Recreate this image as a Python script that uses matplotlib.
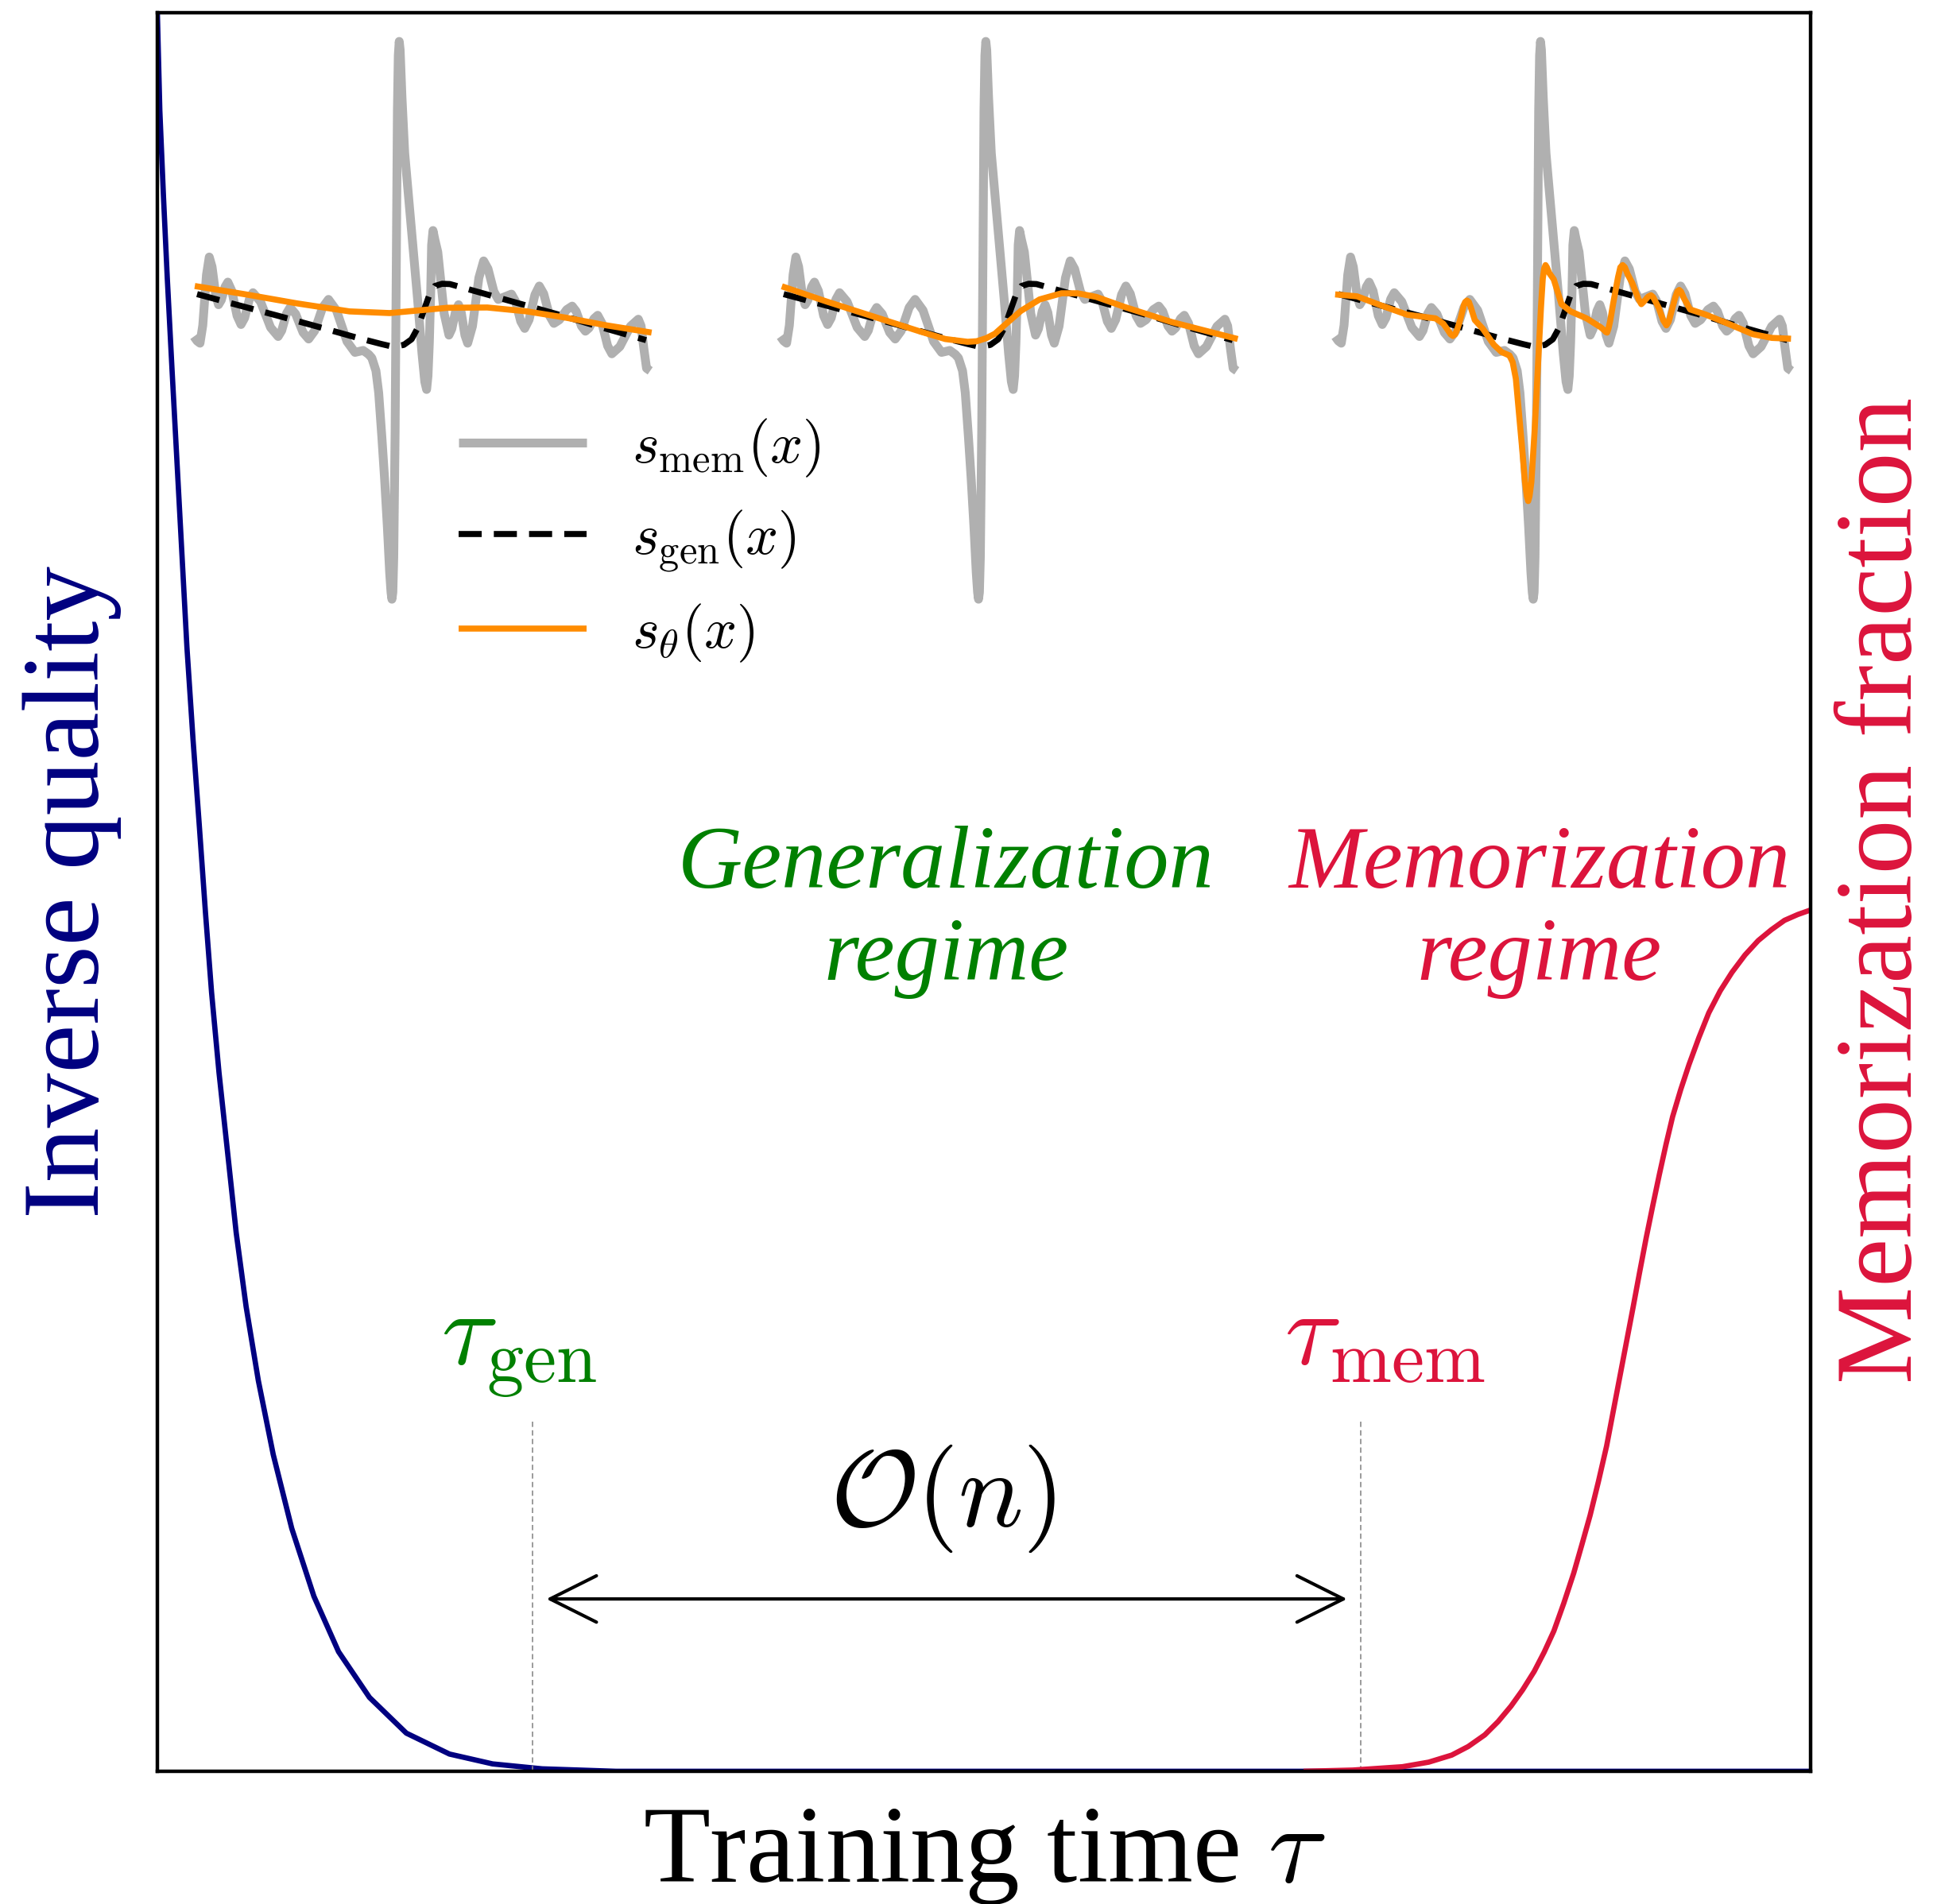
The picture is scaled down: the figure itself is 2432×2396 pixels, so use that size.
import matplotlib
matplotlib.use("Agg")
import matplotlib.pyplot as plt

plt.rcParams['font.family'] = ['Liberation Serif', 'DejaVu Serif']
plt.rcParams['mathtext.fontset'] = 'cm'

NAVY = '#000080'
CRIMSON = '#dc143c'
GREEN = '#008000'
ORANGE = '#ff8c00'
GREY = '#b0b0b0'

# ---- main curves (training time on [0, 1]) ----
tau_q = [0.0, 0.0015, 0.0037, 0.0060, 0.0089, 0.0119, 0.0149, 0.0179, 0.0216,
         0.0254, 0.0291, 0.0328, 0.0373, 0.0425, 0.0477, 0.0537, 0.0611, 0.0701,
         0.0813, 0.0947, 0.1096, 0.1283, 0.1506, 0.1767, 0.2028, 0.2327, 0.2774, 1.0]
inv_quality = [1.0, 0.9443, 0.8956, 0.8493, 0.7968, 0.7442, 0.6917, 0.6391, 0.5865,
               0.5375, 0.4884, 0.4429, 0.3973, 0.3518, 0.3062, 0.2642, 0.2221, 0.1801,
               0.1381, 0.0995, 0.0680, 0.0420, 0.0217, 0.0098, 0.0042, 0.0014, 0.0, 0.0]

tau_m = [0.6933, 0.7232, 0.7531, 0.7690, 0.7829, 0.7929, 0.8029, 0.8109, 0.8188,
         0.8258, 0.8328, 0.8388, 0.8447, 0.8507, 0.8567, 0.8617, 0.8666, 0.8716,
         0.8766, 0.8806, 0.8846, 0.8886, 0.8926, 0.8965, 0.9005, 0.9045, 0.9085,
         0.9125, 0.9165, 0.9214, 0.9264, 0.9324, 0.9384, 0.9453, 0.9524, 0.9603,
         0.9683, 0.9763, 0.9842, 0.9922, 1.0]
mem_frac = [0.0, 0.0007, 0.0026, 0.0052, 0.0092, 0.0141, 0.0207, 0.0282, 0.0371,
            0.0463, 0.0568, 0.0677, 0.0798, 0.0956, 0.1127, 0.1291, 0.1455, 0.1646,
            0.1850, 0.2047, 0.2244, 0.2441, 0.2638, 0.2835, 0.3032, 0.3216, 0.3394,
            0.3564, 0.3722, 0.3876, 0.4018, 0.4172, 0.4313, 0.4438, 0.4543, 0.4642,
            0.4724, 0.4786, 0.4839, 0.4872, 0.4898]

tau_gen = 0.2268
tau_mem = 0.7278
marker_top = 0.20
arrow_y = 0.098

# ---- score functions on x in [0, 1] ----
x_mem = [0.000, 0.007, 0.0134, 0.0195, 0.0236, 0.0276, 0.0337, 0.0398, 0.0439, 0.0479,
         0.054, 0.0601, 0.0642, 0.0683, 0.0744, 0.0831, 0.0889, 0.0946, 0.1033, 0.1112,
         0.1164, 0.1216, 0.1295, 0.1461, 0.1571, 0.1681, 0.1847, 0.1925, 0.1978, 0.203,
         0.2108, 0.223, 0.2312, 0.2393, 0.2515, 0.2646, 0.2733, 0.282, 0.295, 0.3124,
         0.324, 0.3356, 0.353, 0.371, 0.383, 0.390, 0.399, 0.405, 0.412, 0.418,
         0.424, 0.429, 0.432, 0.434, 0.436, 0.438, 0.441, 0.444, 0.446, 0.448,
         0.450, 0.452, 0.456, 0.462, 0.475, 0.490, 0.500, 0.506, 0.510, 0.513,
         0.516, 0.519, 0.521, 0.524, 0.528, 0.5345, 0.5415, 0.5485, 0.559, 0.5653,
         0.5695, 0.5737, 0.580, 0.586, 0.590, 0.594, 0.600, 0.6105, 0.6175, 0.6245,
         0.635, 0.6446, 0.651, 0.6574, 0.667, 0.6815, 0.696, 0.7047, 0.7105, 0.7163,
         0.725, 0.7346, 0.741, 0.7474, 0.757, 0.7666, 0.773, 0.7794, 0.789, 0.801,
         0.809, 0.817, 0.829, 0.8377, 0.8435, 0.8493, 0.858, 0.8661, 0.8715, 0.8769,
         0.885, 0.8943, 0.9005, 0.9067, 0.916, 0.9334, 0.945, 0.9566, 0.974, 0.980,
         0.986, 0.992, 1.000]
s_mem = [-0.058, -0.074, -0.082, -0.018, 0.0725, 0.163, 0.227, 0.192, 0.1415, 0.091,
         0.056, 0.0727, 0.0965, 0.120, 0.137, 0.1057, 0.061, 0.0163, -0.015, 0.0085,
         0.042, 0.0755, 0.099, 0.0667, 0.0205, -0.0257, -0.058, -0.0366, -0.006, 0.0246,
         0.046, 0.0227, -0.0105, -0.0437, -0.067, -0.0377, 0.004, 0.0458, 0.075, 0.0359,
         -0.020, -0.0759, -0.115, -0.108, -0.122, -0.135, -0.181, -0.26, -0.42, -0.57,
         -0.74, -0.903, -0.975, -1.000, -0.975, -0.85, -0.40, 0.30, 0.75, 0.95,
         1.000, 0.97, 0.80, 0.60, 0.36, 0.08, -0.12, -0.22, -0.248, -0.20,
         -0.08, 0.10, 0.27, 0.322, 0.29, 0.245, 0.1345, 0.024, -0.053, -0.0305,
         0.0015, 0.0335, 0.056, 0.0276, -0.013, -0.0536, -0.082, -0.0212, 0.0655, 0.152,
         0.213, 0.1846, 0.144, 0.1034, 0.075, 0.0845, 0.094, 0.0687, 0.0325, -0.0037,
         -0.029, 0.0023, 0.047, 0.0917, 0.123, 0.0954, 0.056, 0.0166, -0.011, 0.0018,
         0.020, 0.0382, 0.051, 0.0325, 0.006, -0.0205, -0.039, -0.0273, -0.0105, 0.0063,
         0.018, -0.0104, -0.051, -0.0916, -0.120, -0.0945, -0.058, -0.0215, 0.004, -0.02,
         -0.10, -0.172, -0.181]

x_gen = [0.007, 0.098, 0.185, 0.272, 0.359, 0.411, 0.437, 0.460, 0.477, 0.491,
         0.503, 0.516, 0.528, 0.544, 0.561, 0.620, 0.707, 0.794, 0.882, 0.991]
s_gen = [0.094, 0.054, 0.016, -0.023, -0.063, -0.085, -0.095, -0.088, -0.068, -0.026,
         0.031, 0.091, 0.123, 0.131, 0.130, 0.103, 0.063, 0.023, -0.020, -0.071]

x_th_early = [0.002, 0.110, 0.225, 0.341, 0.429, 0.516, 0.556, 0.643, 0.730, 0.817, 0.904, 1.003]
s_th_early = [0.123, 0.094, 0.061, 0.032, 0.026, 0.039, 0.045, 0.046, 0.032, 0.009, -0.018, -0.044]

x_th_mid = [0.003, 0.100, 0.203, 0.306, 0.361, 0.410, 0.430, 0.451, 0.470, 0.485,
            0.527, 0.568, 0.616, 0.651, 0.692, 0.754, 0.857, 1.002]
s_th_mid = [0.122, 0.068, 0.014, -0.040, -0.067, -0.077, -0.075, -0.064, -0.048, -0.026,
            0.034, 0.075, 0.097, 0.097, 0.084, 0.048, -0.006, -0.067]

x_th_late = [0.000, 0.048, 0.103, 0.158, 0.220, 0.237, 0.247, 0.253, 0.258, 0.263,
             0.268, 0.275, 0.282, 0.285, 0.289, 0.293, 0.297, 0.306, 0.324, 0.348,
             0.365, 0.382, 0.389, 0.396, 0.410, 0.416, 0.420, 0.423, 0.426, 0.430,
             0.437, 0.451, 0.455, 0.458, 0.461, 0.464, 0.469, 0.479, 0.496, 0.516,
             0.551, 0.582, 0.590, 0.593, 0.596, 0.599, 0.603, 0.609, 0.620, 0.625,
             0.630, 0.635, 0.641, 0.651, 0.665, 0.671, 0.677, 0.686, 0.692, 0.697,
             0.709, 0.719, 0.726, 0.731, 0.745, 0.750, 0.754, 0.758, 0.764, 0.778,
             0.813, 0.861, 0.916, 0.957, 0.999]
s_th_late = [0.093, 0.086, 0.052, 0.020, 0.007, -0.012, -0.035, -0.050, -0.056, -0.050,
             -0.030, 0.007, 0.055, 0.066, 0.071, 0.066, 0.048, 0.001, -0.031, -0.088,
             -0.114, -0.126, -0.150, -0.209, -0.463, -0.580, -0.630, -0.648, -0.630, -0.580,
             -0.400, 0.045, 0.150, 0.185, 0.198, 0.190, 0.170, 0.147, 0.058, 0.032,
             0.007, -0.025, -0.036, -0.042, -0.044, -0.030, 0.000, 0.058, 0.155, 0.190,
             0.198, 0.190, 0.165, 0.134, 0.075, 0.058, 0.068, 0.085, 0.090, 0.083,
             0.045, 0.000, -0.018, -0.005, 0.080, 0.104, 0.109, 0.103, 0.080, 0.039,
             0.020, -0.012, -0.050, -0.063, -0.066]

inset_left = [0.0221, 0.3769, 0.7124]
theta_x = [x_th_early, x_th_mid, x_th_late]
theta_s = [s_th_early, s_th_mid, s_th_late]

fig = plt.figure(figsize=(24.32, 23.96), dpi=100)
ax = fig.add_axes([0.0814, 0.0697, 0.8553, 0.9236])
ax.set_xlim(0, 1)
ax.set_ylim(0, 1)
ax.set_xticks([])
ax.set_yticks([])
for sp in ax.spines.values():
    sp.set_visible(False)

ax.plot(tau_q, inv_quality, color=NAVY, lw=4.8, solid_capstyle='butt',
        solid_joinstyle='round')

ax2 = ax.twinx()
ax2.set_ylim(0, 1)
ax2.set_yticks([])
for sp in ax2.spines.values():
    sp.set_linewidth(3.2)
ax2.plot(tau_m, mem_frac, color=CRIMSON, lw=4.8, solid_capstyle='butt',
         solid_joinstyle='round')

# time markers and the O(n) span
for t in (tau_gen, tau_mem):
    ax.plot([t, t], [0, marker_top], color='#8a8a8a', lw=1.2, ls=(0, (4, 2.5)))
ax.annotate('', xy=(tau_mem - 0.0082, arrow_y), xytext=(tau_gen + 0.0085, arrow_y),
            arrowprops=dict(arrowstyle='<->,head_length=4.2,head_width=2.1',
                            mutation_scale=10, lw=3, color='black',
                            shrinkA=0, shrinkB=0))
ax.text(0.4751, 0.155, r'$\mathcal{O}(n)$', fontsize=98, ha='center', va='center')

ax.text(0.1716, 0.231, r'$\tau_{\mathrm{gen}}$', fontsize=95, color=GREEN,
        ha='left', va='baseline')
ax.text(0.6818, 0.231, r'$\tau_{\mathrm{mem}}$', fontsize=95, color=CRIMSON,
        ha='left', va='baseline')

ax.text(0.4771, 0.5025, 'Generalization', fontsize=81, style='italic', color=GREEN,
        ha='center', va='baseline')
ax.text(0.4771, 0.4499, 'regime', fontsize=81, style='italic', color=GREEN,
        ha='center', va='baseline')
ax.text(0.8358, 0.5025, 'Memorization', fontsize=81, style='italic', color=CRIMSON,
        ha='center', va='baseline')
ax.text(0.8358, 0.4499, 'regime', fontsize=81, style='italic', color=CRIMSON,
        ha='center', va='baseline')

# score-function snapshots
handles = None
for left, xs, ss in zip(inset_left, theta_x, theta_s):
    ins = ax2.inset_axes([left, 0.6665, 0.2760, 0.3172])
    ins.set_xlim(0, 1)
    ins.set_ylim(-1, 1)
    ins.axis('off')
    ins.patch.set_alpha(0)
    l1, = ins.plot(x_mem, s_mem, color=GREY, lw=8, clip_on=False,
                   solid_joinstyle='round', solid_capstyle='butt')
    l2, = ins.plot(x_gen, s_gen, color='black', lw=5.5, ls=(0, (3.8, 2.0)),
                   clip_on=False, dash_capstyle='butt')
    l3, = ins.plot(xs, ss, color=ORANGE, lw=5.5, clip_on=False,
                   solid_joinstyle='round', solid_capstyle='butt')
    if handles is None:
        handles = [l1, l2, l3]

ax2.legend(handles, [r'$s_{\mathrm{mem}}(x)$', r'$s_{\mathrm{gen}}(x)$', r'$s_{\theta}(x)$'],
           loc='upper left', bbox_to_anchor=(0.1822, 0.770), frameon=False,
           fontsize=52, handlelength=2.23, handletextpad=0.79, labelspacing=0.5,
           borderpad=0, borderaxespad=0)

ax.set_xlabel(r'Training time $\tau$', fontsize=99, va='baseline')
ax.xaxis.set_label_coords(0.5, -0.063)
ax.set_ylabel('Inverse quality', fontsize=99, color=NAVY, va='baseline')
ax.yaxis.set_label_coords(-0.0356, 0.5)
ax2.set_ylabel('Memorization fraction', fontsize=99, color=CRIMSON, va='baseline',
               rotation=90)
ax2.yaxis.set_label_coords(1.061, 0.501)

fig.savefig('out.png', dpi=100)
